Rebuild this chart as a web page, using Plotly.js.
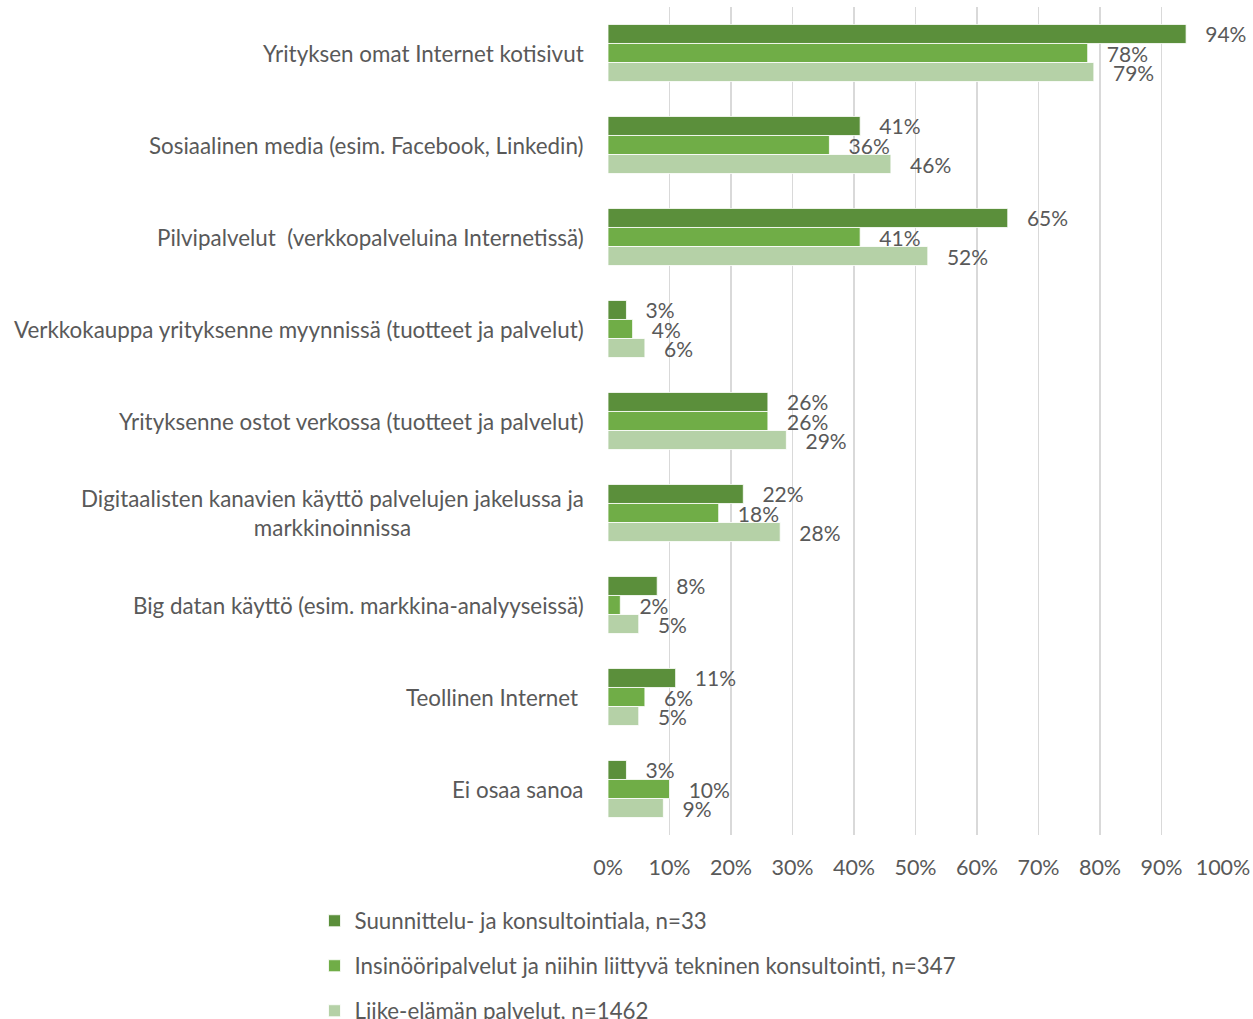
<!DOCTYPE html>
<html>
<head>
<meta charset="utf-8">
<script src="https://cdn.plot.ly/plotly-3.0.1.min.js"></script>
<style>html,body{margin:0;padding:0;background:#fff;}#chart{width:1253px;height:1019px;}</style>
</head>
<body>
<div id="chart"></div>
<script>
const categories = [
  "Yrityksen omat Internet kotisivut",
  "Sosiaalinen media (esim. Facebook, Linkedin)",
  "Pilvipalvelut  (verkkopalveluina Internetissä)",
  "Verkkokauppa yrityksenne myynnissä (tuotteet ja palvelut)",
  "Yrityksenne ostot verkossa (tuotteet ja palvelut)",
  "Digitaalisten kanavien käyttö palvelujen jakelussa ja<br>markkinoinnissa",
  "Big datan käyttö (esim. markkina-analyyseissä)",
  "Teollinen Internet ",
  "Ei osaa sanoa"
];
const seriesNames = [
  "Suunnittelu- ja konsultointiala, n=33",
  "Insinööripalvelut ja niihin liittyvä tekninen konsultointi, n=347",
  "Liike-elämän palvelut, n=1462"
];
const suunnittelu = [94, 41, 65, 3, 26, 22, 8, 11, 3];
const insinoori   = [78, 36, 41, 4, 26, 18, 2, 6, 10];
const liike       = [79, 46, 52, 6, 29, 28, 5, 5, 9];
const xTicks = [0, 10, 20, 30, 40, 50, 60, 70, 80, 90, 100];

const colors = ["#5B8F3B", "#70AD47", "#B5D1A7"];
const allValues = [suunnittelu, insinoori, liike];
const FONT = "Lato, 'Open Sans', sans-serif";
const TXT = "#595959";

const traces = allValues.map((vals, i) => ({
  type: "bar",
  orientation: "h",
  name: seriesNames[i],
  y: categories,
  x: vals,
  legendgroup: "g" + i,
  marker: {color: colors[i], line: {color: "#ffffff", width: 0.8}},
  text: vals.map(v => "\u00a0\u00a0\u00a0" + v + "%"),
  texttemplate: "%{text}",
  textposition: "outside",
  constraintext: "none",
  cliponaxis: false,
  textfont: {family: FONT, size: 21, color: TXT},
  hoverinfo: "none"
}));

const annotations = categories.map(c => ({
  xref: "paper", yref: "y", x: 0, y: c,
  xanchor: "right", yanchor: "middle", xshift: -22,
  text: c, showarrow: false, align: "center",
  font: {family: FONT, size: 22.4, color: TXT}
}));

const layout = {
  width: 1253, height: 1019,
  margin: {l: 608, r: 30, t: 7, b: 184, autoexpand: false},
  paper_bgcolor: "#fff", plot_bgcolor: "#fff",
  barmode: "group",
  bargap: 0.38,
  bargroupgap: 0,
  font: {family: FONT, size: 21, color: TXT},
  xaxis: {
    range: [0, 100],
    tickvals: xTicks,
    ticktext: xTicks.map(v => v + "%"),
    showgrid: true, gridcolor: "#D9D9D9", gridwidth: 1.5,
    zeroline: false, showline: false, ticks: "",
    ticklabelstandoff: 17,
    tickfont: {family: FONT, size: 21.5, color: TXT},
    fixedrange: true
  },
  yaxis: {
    autorange: "reversed",
    showticklabels: false, showgrid: false, zeroline: false, showline: false, ticks: "",
    fixedrange: true
  },
  showlegend: true,
  legend: {
    orientation: "v", xref: "container", yref: "container",
    x: 0.251, xanchor: "left", y: 0.117, yanchor: "top",
    traceorder: "grouped", tracegroupgap: 13,
    font: {family: FONT, size: 22.3, color: TXT},
    itemwidth: 30
  },
  annotations: annotations
};

Plotly.newPlot("chart", traces, layout, {displayModeBar: false, staticPlot: true});
</script>
</body>
</html>
